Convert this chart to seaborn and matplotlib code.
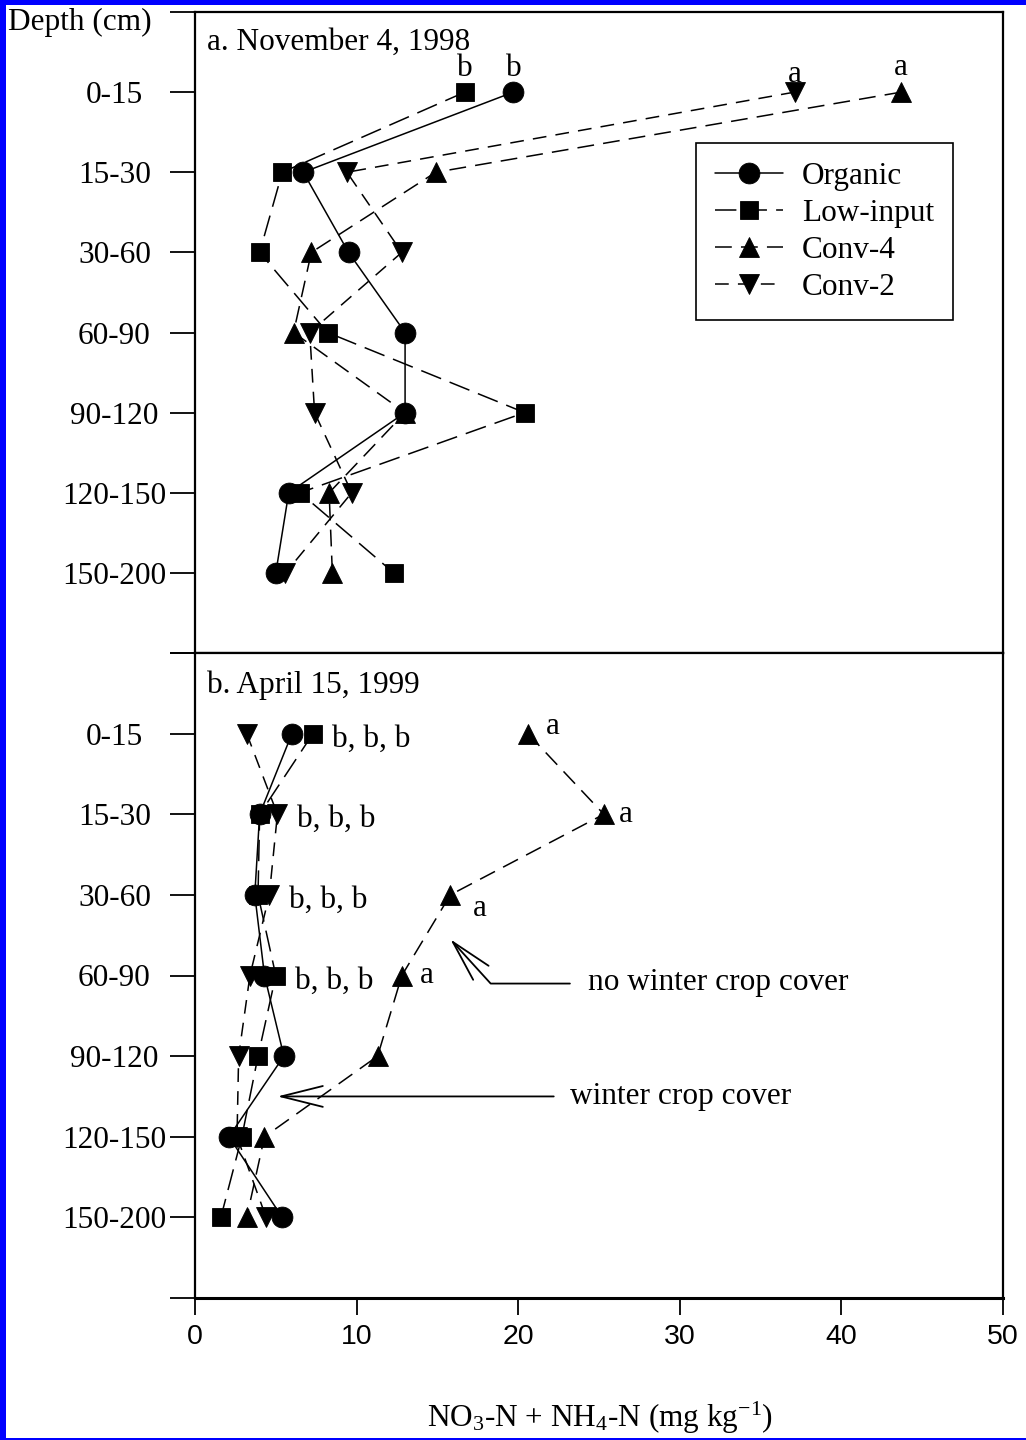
import numpy as np
import matplotlib
matplotlib.use("Agg")
import matplotlib.pyplot as plt
from matplotlib.patches import Rectangle
import seaborn as sns

# Soil depth classes (cm) and treatments
depths = ["0-15", "15-30", "30-60", "60-90", "90-120", "120-150", "150-200"]
treatments = ["Organic", "Low-input", "Conv-4", "Conv-2"]

# NO3-N + NH4-N (mg/kg), November 4, 1998
nov_organic = [19.7, 6.7, 9.5, 13.0, 13.0, 5.8, 5.0]
nov_lowinput = [16.7, 5.4, 4.0, 8.2, 20.4, 6.5, 12.3]
nov_conv4 = [43.7, 14.9, 7.2, 6.1, 13.0, 8.3, 8.5]
nov_conv2 = [37.1, 9.4, 12.8, 7.1, 7.4, 9.7, 5.6]

# NO3-N + NH4-N (mg/kg), April 15, 1999
apr_organic = [6.0, 4.0, 3.7, 4.3, 5.5, 2.1, 5.4]
apr_lowinput = [7.3, 4.0, 3.9, 5.0, 3.9, 2.9, 1.6]
apr_conv4 = [20.6, 25.3, 15.8, 12.8, 11.3, 4.3, 3.2]
apr_conv2 = [3.2, 5.1, 4.6, 3.4, 2.7, 2.6, 4.4]

# Mean-separation letters
nov_top_letters = ["b", "b", "a", "a"]          # 0-15 cm, per treatment
apr_other_letters = ["b, b, b"] * 4             # 0-90 cm, Organic/Low-input/Conv-2
apr_conv4_letters = ["a", "a", "a", "a"]        # 0-90 cm, Conv-4

x_ticks = [0, 10, 20, 30, 40, 50]

sns.set_theme(style="ticks")
plt.rcParams["font.family"] = ["Liberation Serif", "DejaVu Serif"]
plt.rcParams["mathtext.fontset"] = "custom"
plt.rcParams["mathtext.rm"] = "Liberation Serif"
plt.rcParams["mathtext.it"] = "Liberation Serif:italic"
plt.rcParams["text.color"] = "black"
plt.rcParams["axes.edgecolor"] = "black"
plt.rcParams["xtick.color"] = "black"
plt.rcParams["ytick.color"] = "black"

W, H = 1026, 1440
FS = 22.5

fig = plt.figure(figsize=(W / 100, H / 100), dpi=100)
fig.patch.set_facecolor("#0000ff")
fig.add_artist(Rectangle((6 / W, 2 / H), 1 - 6 / W, (H - 7) / H,
                         transform=fig.transFigure, facecolor="white",
                         edgecolor="none", zorder=-10))

L, R = 195 / W, 1003 / W
ax_a = fig.add_axes([L, 1 - 653 / H, R - L, (653 - 12) / H])
ax_b = fig.add_axes([L, 1 - 1298 / H, R - L, (1298 - 653) / H])

styles = {
    "Organic": dict(marker="o", markersize=15, linestyle="-", z=4),
    "Low-input": dict(marker="s", markersize=13.5, linestyle=(0, (14, 6)), z=5),
    "Conv-4": dict(marker="^", markersize=14.5, linestyle=(0, (11, 6)), z=2),
    "Conv-2": dict(marker="v", markersize=14.5, linestyle=(0, (9, 6)), z=3),
}

positions = np.arange(1, len(depths) + 1)


def draw_profiles(ax, series, with_labels):
    for name, vals in zip(treatments, series):
        st = styles[name]
        sns.lineplot(x=vals, y=positions, orient="y", estimator=None,
                     sort=True, color="black", linewidth=1.1,
                     marker=st["marker"], markersize=st["markersize"],
                     linestyle=st["linestyle"], markeredgecolor="black",
                     markeredgewidth=0.6, zorder=st["z"],
                     label=name if with_labels else None, ax=ax)


def style_axes(ax):
    ax.set_xlim(0, 50)
    ax.set_ylim(8, 0)
    ax.set_xlabel("")
    ax.set_ylabel("")
    ax.set_yticks(range(0, 9))
    ax.set_yticklabels([""] + depths + [""], fontsize=FS)
    ax.tick_params(axis="y", direction="out", length=18, width=1.3, pad=40)
    for lbl in ax.get_yticklabels():
        lbl.set_horizontalalignment("center")
    for side in ["left", "right", "top", "bottom"]:
        ax.spines[side].set_visible(True)
        ax.spines[side].set_linewidth(1.6)
        ax.spines[side].set_color("black")
    ax.set_facecolor("white")


series_a = [nov_organic, nov_lowinput, nov_conv4, nov_conv2]
series_b = [apr_organic, apr_lowinput, apr_conv4, apr_conv2]

draw_profiles(ax_a, series_a, True)
draw_profiles(ax_b, series_b, False)
style_axes(ax_a)
style_axes(ax_b)

ax_a.tick_params(axis="x", bottom=False, labelbottom=False)
ax_b.set_xticks(x_ticks)
ax_b.set_xticklabels([str(t) for t in x_ticks], fontsize=20.5,
                     family="Liberation Sans")
ax_b.tick_params(axis="x", direction="out", length=12, width=1.3, pad=7)
ax_b.spines["bottom"].set_linewidth(2.2)

# Panel titles
ax_a.text(0.015, 0.953, "a. November 4, 1998", transform=ax_a.transAxes,
          ha="left", va="center", fontsize=FS)
ax_b.text(0.015, 0.950, "b. April 15, 1999", transform=ax_b.transAxes,
          ha="left", va="center", fontsize=FS)

# Letters above the 0-15 cm points (November)
lift = {"Organic": 17, "Low-input": 17, "Conv-4": 18, "Conv-2": 13}
for name, vals, letter in zip(treatments, series_a, nov_top_letters):
    ax_a.annotate(letter, xy=(vals[0], positions[0]), xytext=(0, lift[name]),
                  textcoords="offset points", ha="center", va="center",
                  fontsize=FS)

# Letters beside the April points
for i, letter in enumerate(apr_other_letters):
    right = max(apr_organic[i], apr_lowinput[i], apr_conv2[i])
    ax_b.annotate(letter, xy=(right, positions[i]), xytext=(14, -4),
                  textcoords="offset points", ha="left", va="center",
                  fontsize=FS)
conv4_offsets = [(18, 5), (16, 0), (21, -10), (18, 0)]
for i, letter in enumerate(apr_conv4_letters):
    ax_b.annotate(letter, xy=(apr_conv4[i], positions[i]),
                  xytext=conv4_offsets[i], textcoords="offset points",
                  ha="center", va="center", fontsize=FS)

# Cover-crop call-outs
arrow_kw = dict(arrowstyle="->,head_length=3.0,head_width=0.75",
                color="black", lw=1.3, mutation_scale=10,
                shrinkA=0, shrinkB=0)
ax_b.annotate("", xy=(15.8, 3.55), xytext=(23.2, 4.1),
              arrowprops=dict(connectionstyle="angle,angleA=0,angleB=-47.7,rad=0",
                              **arrow_kw))
ax_b.text(24.3, 4.09, "no winter crop cover", ha="left", va="center",
          fontsize=FS)
ax_b.annotate("", xy=(5.1, 5.5), xytext=(22.2, 5.5), arrowprops=arrow_kw)
ax_b.text(23.2, 5.5, "winter crop cover", ha="left", va="center",
          fontsize=FS)

# Legend
leg = ax_a.legend(loc="upper right", bbox_to_anchor=(0.938, 0.795),
                  frameon=True, fancybox=False, edgecolor="black",
                  framealpha=1, fontsize=FS, handlelength=2.2,
                  handletextpad=0.6, labelspacing=0.25, borderpad=0.6,
                  borderaxespad=0)
leg.get_frame().set_linewidth(1.2)

fig.text(8 / W, 1 - 22 / H, "Depth (cm)", ha="left", va="center", fontsize=FS)
fig.text(600 / W, 1 - 1418 / H,
         r"NO$_\mathregular{3}$-N + NH$_\mathregular{4}$-N (mg kg$^\mathregular{-1}$)",
         ha="center", va="center", fontsize=FS)

fig.savefig("out.png", dpi=100, facecolor=fig.get_facecolor())
